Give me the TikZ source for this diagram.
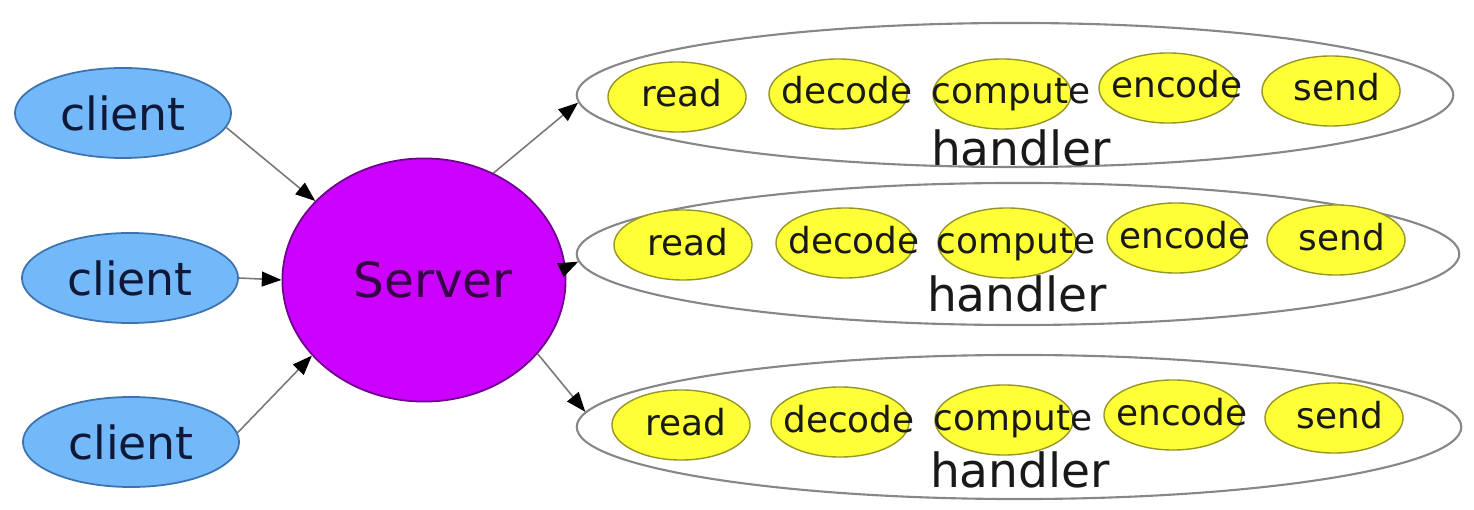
\documentclass[tikz,border=0pt]{standalone}
\usepackage{fontspec}
\setmainfont{DejaVu Sans}
\usetikzlibrary{shapes.geometric,arrows.meta}
\definecolor{clientfill}{RGB}{115,185,250}
\definecolor{clientborder}{RGB}{60,115,175}
\definecolor{clienttext}{RGB}{15,25,55}
\definecolor{serverfill}{RGB}{204,0,255}
\definecolor{serverborder}{RGB}{110,0,140}
\definecolor{servertext}{RGB}{55,0,70}
\definecolor{stagefill}{RGB}{255,255,56}
\definecolor{stageborder}{RGB}{150,150,40}
\definecolor{handlergray}{RGB}{135,135,135}
\definecolor{linegray}{RGB}{120,120,120}
\begin{document}
\begin{tikzpicture}[x=0.01cm,y=-0.01cm,
  client/.style={ellipse, draw=clientborder, fill=clientfill, line width=0.5pt,
    minimum width=2.16cm, minimum height=0.9cm, inner sep=0pt,
    font=\fontsize{13}{15}\selectfont, text=clienttext},
  server/.style={ellipse, draw=serverborder, fill=serverfill, line width=0.5pt,
    minimum width=2.83cm, minimum height=2.43cm, inner sep=0pt,
    font=\fontsize{13.8}{16}\selectfont, text=servertext},
  handlerbox/.style={ellipse, draw=handlergray, line width=0.6pt, fill=white, inner sep=0pt},
  stage/.style={ellipse, draw=stageborder, fill=stagefill, line width=0.4pt,
    minimum width=1.38cm, minimum height=0.70cm, inner sep=0pt,
    text height=0.20cm, text depth=0cm,
    font=\fontsize{10.2}{12}\selectfont, text=black!90},
  hlabel/.style={font=\fontsize{13.4}{16}\selectfont, anchor=base, inner sep=0pt, text=black!90},
  conn/.style={draw=linegray, line width=0.45pt, -{Triangle[length=5.6pt,width=4.2pt,color=black]}}
]
\useasboundingbox (0,0) rectangle (1474,510);

% clients
\node[client] (c1) at (123,113) {client};
\node[client] (c2) at (130,278) {client};
\node[client] (c3) at (131,442) {client};

% server
\node[server] (srv) at (424,280) {\makebox[0pt]{\hspace{0.18cm}Server}};

% handlers
\node[handlerbox, minimum width=8.76cm, minimum height=1.44cm] (h1) at (1015,95) {};
\node[handlerbox, minimum width=8.82cm, minimum height=1.42cm] (h2) at (1018,254) {};
\node[handlerbox, minimum width=8.84cm, minimum height=1.44cm] (h3) at (1019,427) {};

% handler 1 stages
\node[stage] (h1a) at (677,97) {\makebox[0pt]{\hspace{0.10cm}read}};
\node[stage] (h1b) at (838,94) {\makebox[0pt]{\hspace{0.18cm}decode}};
\node[stage] (h1c) at (1002,94) {\makebox[0pt]{\hspace{0.18cm}compute}};
\node[stage] (h1d) at (1168,88) {\makebox[0pt]{\hspace{0.18cm}encode}};
\node[stage] (h1e) at (1331,91) {\makebox[0pt]{\hspace{0.12cm}send}};
\node[hlabel] (h1t) at (1021,166) {handler};

% handler 2 stages
\node[stage] (h2a) at (683,245) {\makebox[0pt]{\hspace{0.10cm}read}};
\node[stage] (h2b) at (845,243) {\makebox[0pt]{\hspace{0.18cm}decode}};
\node[stage] (h2c) at (1007,243) {\makebox[0pt]{\hspace{0.18cm}compute}};
\node[stage] (h2d) at (1176,238) {\makebox[0pt]{\hspace{0.18cm}encode}};
\node[stage] (h2e) at (1336,240) {\makebox[0pt]{\hspace{0.12cm}send}};
\node[hlabel] (h2t) at (1017,312) {handler};

% handler 3 stages
\node[stage] (h3a) at (681,425) {\makebox[0pt]{\hspace{0.10cm}read}};
\node[stage] (h3b) at (840,422) {\makebox[0pt]{\hspace{0.18cm}decode}};
\node[stage] (h3c) at (1004,420) {\makebox[0pt]{\hspace{0.18cm}compute}};
\node[stage] (h3d) at (1173,415) {\makebox[0pt]{\hspace{0.18cm}encode}};
\node[stage] (h3e) at (1334,418) {\makebox[0pt]{\hspace{0.12cm}send}};
\node[hlabel] (h3t) at (1020,488) {handler};

% connectors
\draw[conn] (c1.-8) -- (srv.144);
\draw[conn] (c2.east) -- (srv.west);
\draw[conn] (c3.5) -- (srv.214);
\draw[conn] (srv.57) -- (h1.181);
\draw[conn] (srv.5) -- (h2.181.4);
\draw[conn] (srv.-33) -- (h3.178.4);
\end{tikzpicture}
\end{document}
